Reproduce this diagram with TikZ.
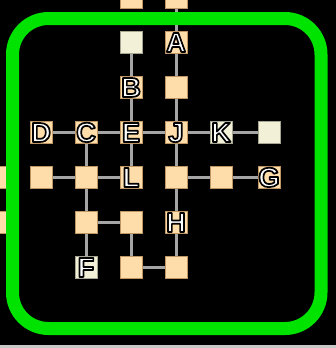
\documentclass[tikz,border=0pt]{standalone}
\usepackage{fontspec}
\usetikzlibrary{positioning}
\newfontfamily\tilefont{Liberation Sans}
\definecolor{tilebeige}{RGB}{255,221,170}
\definecolor{tileedge}{RGB}{190,150,100}
\definecolor{tilelight}{RGB}{242,240,214}
\definecolor{lightedge}{RGB}{165,165,145}
\definecolor{linkgray}{RGB}{165,165,165}
\definecolor{framegreen}{RGB}{0,226,0}
\definecolor{stripgray}{RGB}{200,200,200}
% white letter, black rim (fill + stroke render mode)
\newcommand{\tilelbl}[1]{\smash{\makebox[0pt]{\raisebox{-0.36em}{%
  \special{pdf:literal direct 0 G 1.7 w 1 j 2 Tr}#1\special{pdf:literal direct 0 Tr}}}}}

\begin{document}
\begin{tikzpicture}[x=1pt, y=-1pt, on grid, node distance=45pt,
  tile/.style={draw=tileedge, line width=1pt, fill=tilebeige, minimum size=22pt, inner sep=0pt,
    text=white, font=\tilefont\bfseries\fontsize{27.5}{27.5}\selectfont},
  pale/.style={tile, draw=lightedge, fill=tilelight},
  link/.style={draw=linkgray, line width=3pt}]
  \useasboundingbox (0,0) rectangle (336,348);
  \fill[black] (0,0) rectangle (336,345);
  \fill[stripgray] (0,345) rectangle (336,348);
  \clip (0,0) rectangle (336,348);
  % middle row
  \node[tile] (d) at (41,132) {\tilelbl{D}};
  \node[tile, right=of d] (c) {\tilelbl{C}};
  \node[tile, right=of c] (e) {\tilelbl{E}};
  \node[tile, right=of e] (j) {\tilelbl{J}};
  \node[pale, right=of j] (k) {\tilelbl{K}};
  \node[pale, right=48pt of k] (ke) {};
  % upper columns
  \node[tile, above=of e] (b) {\tilelbl{B}};
  \node[pale, above=of b] (bt) {};
  \node[tile, above=of bt] (btt) {};
  \node[tile, above=of j] (ja) {};
  \node[tile, above=of ja] (a) {\tilelbl{A}};
  \node[tile, above=of a] (at) {};
  % lower rows
  \node[tile, below=of d] (p1) {};
  \node[tile, below=of c] (p2) {};
  \node[tile, below=of e] (l) {\tilelbl{L}};
  \node[tile, below=of j] (p3) {};
  \node[tile, below=of k] (p4) {};
  \node[tile, below=of ke] (g) {\tilelbl{G}};
  \node[tile, left=of p1] (p0) {};
  \node[tile, below=of p0] (q0) {};
  \node[tile, below=of p2] (q1) {};
  \node[tile, below=of l] (q2) {};
  \node[tile, below=of p3] (h) {\tilelbl{H}};
  \node[pale, below=of q1] (f) {\tilelbl{F}};
  \node[tile, below=of q2] (r1) {};
  \node[tile, below=of h] (r2) {};
  % links
  \draw[link] (at) -- (a) -- (ja) -- (j);
  \draw[link] (bt) -- (b) -- (e);
  \draw[link] (d) -- (c) -- (e) -- (j) -- (k) -- (ke);
  \draw[link] (c) -- (p2);
  \draw[link] (e) -- (l);
  \draw[link] (j) -- (p3);
  \draw[link] (p1) -- (p2) -- (l);
  \draw[link] (p3) -- (p4) -- (g);
  \draw[link] (p2) -- (q1) -- (f);
  \draw[link] (p3) -- (h) -- (r2);
  \draw[link] (q1) -- (q2) -- (r1) -- (r2);
  % frame
  \draw[framegreen, line width=13pt, rounded corners=36pt] (12.5,18.5) rectangle (321,328.5);
\end{tikzpicture}
\end{document}
